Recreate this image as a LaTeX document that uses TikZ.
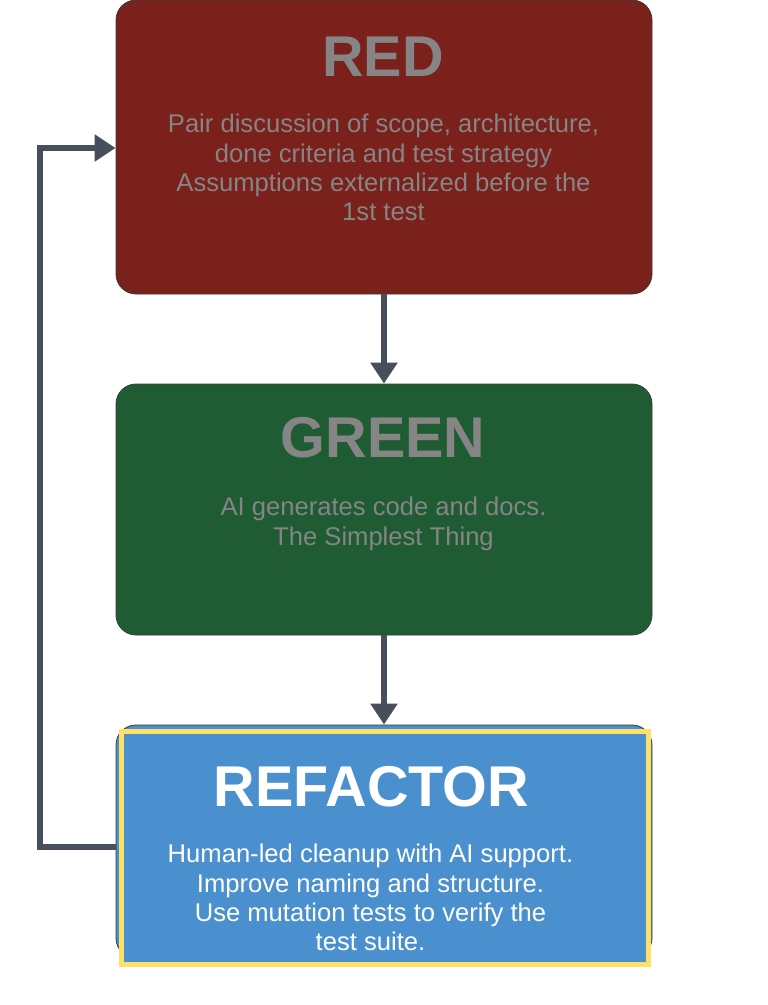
\documentclass[tikz,border=0pt]{standalone}
\usepackage{fontspec}
\setmainfont{Liberation Sans}
\usetikzlibrary{arrows.meta}
\definecolor{redc}{HTML}{7A211C}
\definecolor{greenc}{HTML}{1F5C33}
\definecolor{bluec}{HTML}{4A90CE}
\definecolor{yelc}{HTML}{FFE066}
\definecolor{connc}{HTML}{474E5C}
\definecolor{edgec}{HTML}{3A3A3A}
\definecolor{greyt}{HTML}{858585}
\tikzset{
  stagebox/.style={draw=edgec, line width=0.8pt, rounded corners=20pt, minimum width=536pt, inner sep=0pt},
  title/.style={font=\bfseries\fontsize{57.5}{60}\selectfont, inner sep=0pt, anchor=center},
  body/.style={font=\fontsize{25.6}{29.3}\selectfont, align=center, inner sep=0pt, anchor=north},
  conn/.style={draw=connc, line width=5.5pt, -{Triangle[width=26pt,length=21pt]}},
}
\begin{document}
\begin{tikzpicture}[x=1pt,y=-1pt]
\useasboundingbox[fill=white] (0,0) rectangle (768,1005);
% boxes
\node[stagebox, fill=redc, minimum height=294pt] (redbox) at (384,147) {};
\node[stagebox, fill=greenc, minimum height=251pt] (greenbox) at (384,509.5) {};
\node[stagebox, fill=bluec, minimum height=233pt] (refbox) at (384,841.5) {};
\node[draw=yelc, line width=5pt, fill=bluec, minimum width=527pt, minimum height=233pt, inner sep=0pt] (refframe) at (385,847.5) {};
% texts
\node[title, text=greyt] (redt) at (383,57) {RED};
\node[body, text=greyt] (redb) at (383.5,114) {Pair discussion of scope, architecture,\\done criteria and test strategy\\Assumptions externalized before the\\1st test};
\node[title, text=greyt] (greent) at (383,438) {GREEN};
\node[body, text=greyt] (greenb) at (383.5,497) {AI generates code and docs.\\The Simplest Thing};
\node[title, text=white] (reft) at (371.5,787) {REFACTOR};
\node[body, text=white] (refb) at (370.5,844) {Human-led cleanup with AI support.\\Improve naming and structure.\\Use mutation tests to verify the\\test suite.};
% connectors
\draw[conn] (redbox.south) -- (greenbox.north);
\draw[conn] (greenbox.south) -- (refbox.north);
\coordinate (lb) at (40,847);
\coordinate (lt) at (40,148);
\draw[conn, line cap=butt] ([yshift=-5.5pt]refbox.west) -- (lb) -- (lt) -- ([yshift=-1pt]redbox.west);
\end{tikzpicture}
\end{document}
